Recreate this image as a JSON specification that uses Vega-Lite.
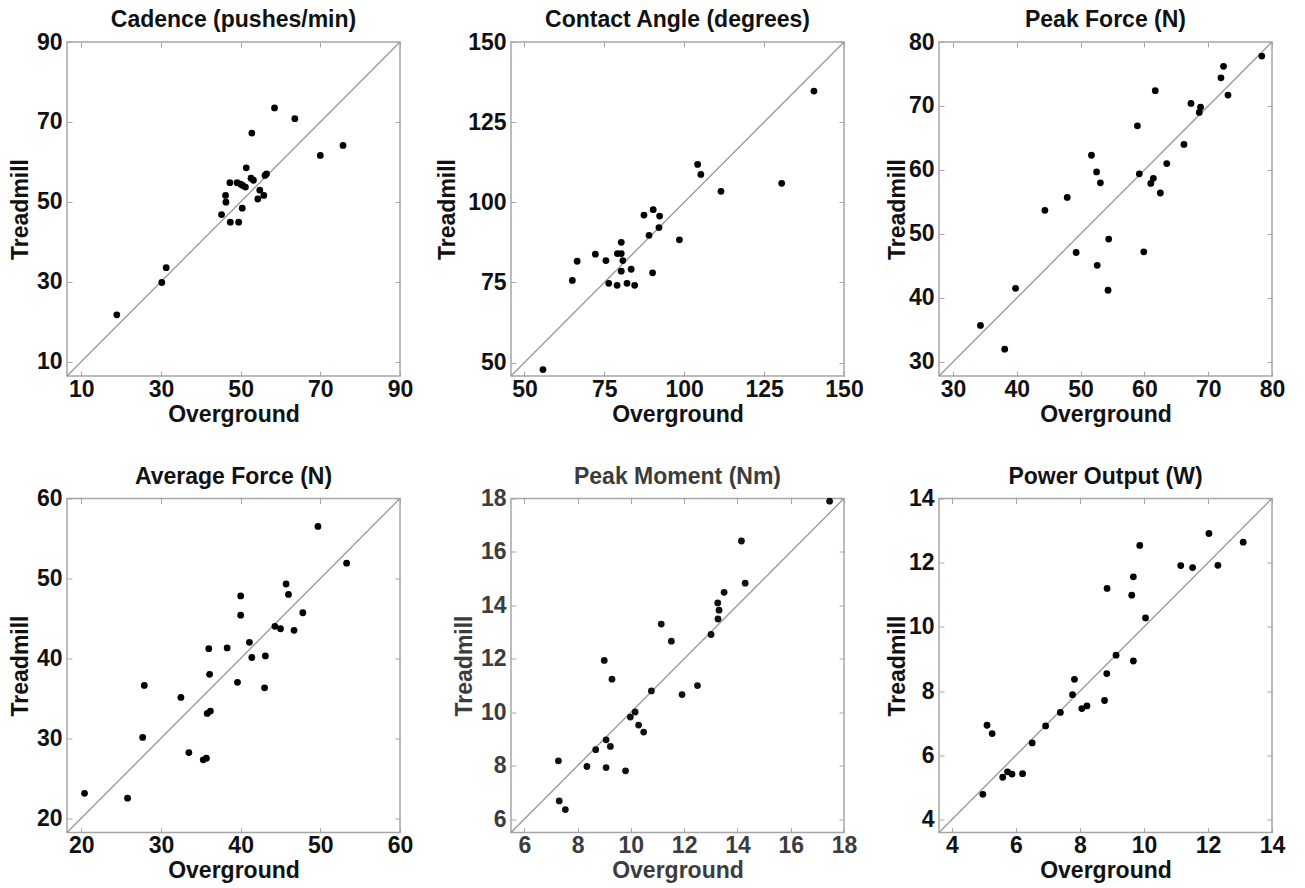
{
  "$schema": "https://vega.github.io/schema/vega-lite/v6.json",
  "background": "white",
  "padding": {"left": 8, "top": 8, "right": 5, "bottom": 2},
  "columns": 3,
  "align": "each",
  "spacing": {"row": 37.5, "column": 21},
  "config": {
    "font": "Liberation Sans",
    "view": {"stroke": "#a6a6a6", "strokeWidth": 1.5},
    "title": {"fontSize": 23, "fontWeight": "bold", "font": "Liberation Sans", "color": "#111111", "frame": "group", "anchor": "middle", "offset": -1},
    "axis": {"grid": false, "domain": false, "tickSize": -5, "tickColor": "#a6a6a6", "tickWidth": 1, "minExtent": 0, "labelFont": "Liberation Sans", "labelFontSize": 23, "labelFontWeight": "bold", "labelColor": "#111111", "labelPadding": 10, "labelFlush": false, "labelOverlap": false, "titleFont": "Liberation Sans", "titleFontSize": 23, "titleFontWeight": "bold", "titleColor": "#111111", "titlePadding": 4},
    "axisX": {"titlePadding": 2, "labelPadding": 7}
  },
  "datasets": {
    "d": [
      {"p": "cad", "o": 58.5, "t": 73.5}, {"p": "cad", "o": 63.6, "t": 70.8}, {"p": "cad", "o": 52.8, "t": 67.2}, {"p": "cad", "o": 70.0, "t": 61.6}, {"p": "cad", "o": 75.7, "t": 64.1}, {"p": "cad", "o": 51.4, "t": 58.5}, {"p": "cad", "o": 52.6, "t": 55.9}, {"p": "cad", "o": 53.2, "t": 55.4}, {"p": "cad", "o": 56.1, "t": 56.6}, {"p": "cad", "o": 56.5, "t": 57.0}, {"p": "cad", "o": 47.3, "t": 54.8}, {"p": "cad", "o": 49.1, "t": 54.8}, {"p": "cad", "o": 50.0, "t": 54.4}, {"p": "cad", "o": 50.5, "t": 54.1}, {"p": "cad", "o": 51.2, "t": 53.7}, {"p": "cad", "o": 54.8, "t": 52.9}, {"p": "cad", "o": 55.8, "t": 51.6}, {"p": "cad", "o": 54.3, "t": 50.7}, {"p": "cad", "o": 46.2, "t": 51.6}, {"p": "cad", "o": 46.3, "t": 49.9}, {"p": "cad", "o": 50.4, "t": 48.4}, {"p": "cad", "o": 45.2, "t": 46.8}, {"p": "cad", "o": 47.4, "t": 44.9}, {"p": "cad", "o": 49.5, "t": 44.9}, {"p": "cad", "o": 31.3, "t": 33.5}, {"p": "cad", "o": 30.2, "t": 29.8}, {"p": "cad", "o": 18.9, "t": 21.7},
      {"p": "ang", "o": 140.6, "t": 134.7}, {"p": "ang", "o": 104.2, "t": 111.8}, {"p": "ang", "o": 105.2, "t": 108.7}, {"p": "ang", "o": 111.5, "t": 103.4}, {"p": "ang", "o": 130.5, "t": 105.9}, {"p": "ang", "o": 87.4, "t": 96.0}, {"p": "ang", "o": 90.3, "t": 97.7}, {"p": "ang", "o": 92.3, "t": 95.7}, {"p": "ang", "o": 92.1, "t": 92.1}, {"p": "ang", "o": 89.0, "t": 89.7}, {"p": "ang", "o": 98.5, "t": 88.3}, {"p": "ang", "o": 80.3, "t": 87.5}, {"p": "ang", "o": 72.2, "t": 83.8}, {"p": "ang", "o": 79.1, "t": 84.0}, {"p": "ang", "o": 80.3, "t": 84.0}, {"p": "ang", "o": 66.5, "t": 81.6}, {"p": "ang", "o": 75.5, "t": 81.8}, {"p": "ang", "o": 80.8, "t": 81.8}, {"p": "ang", "o": 80.3, "t": 78.5}, {"p": "ang", "o": 83.4, "t": 79.1}, {"p": "ang", "o": 90.1, "t": 78.0}, {"p": "ang", "o": 65.0, "t": 75.6}, {"p": "ang", "o": 76.4, "t": 74.7}, {"p": "ang", "o": 79.0, "t": 74.1}, {"p": "ang", "o": 82.1, "t": 74.7}, {"p": "ang", "o": 84.5, "t": 74.1}, {"p": "ang", "o": 55.8, "t": 47.8},
      {"p": "pf", "o": 78.4, "t": 77.8}, {"p": "pf", "o": 72.4, "t": 76.2}, {"p": "pf", "o": 72.0, "t": 74.4}, {"p": "pf", "o": 73.1, "t": 71.7}, {"p": "pf", "o": 61.7, "t": 72.4}, {"p": "pf", "o": 67.3, "t": 70.4}, {"p": "pf", "o": 68.8, "t": 69.8}, {"p": "pf", "o": 68.6, "t": 69.0}, {"p": "pf", "o": 58.9, "t": 66.9}, {"p": "pf", "o": 66.2, "t": 64.0}, {"p": "pf", "o": 51.7, "t": 62.3}, {"p": "pf", "o": 52.5, "t": 59.7}, {"p": "pf", "o": 53.1, "t": 58.0}, {"p": "pf", "o": 59.2, "t": 59.4}, {"p": "pf", "o": 63.5, "t": 61.0}, {"p": "pf", "o": 61.4, "t": 58.7}, {"p": "pf", "o": 61.0, "t": 57.9}, {"p": "pf", "o": 62.5, "t": 56.4}, {"p": "pf", "o": 47.9, "t": 55.7}, {"p": "pf", "o": 44.4, "t": 53.7}, {"p": "pf", "o": 54.4, "t": 49.2}, {"p": "pf", "o": 49.3, "t": 47.1}, {"p": "pf", "o": 59.9, "t": 47.2}, {"p": "pf", "o": 52.6, "t": 45.1}, {"p": "pf", "o": 54.3, "t": 41.2}, {"p": "pf", "o": 39.8, "t": 41.5}, {"p": "pf", "o": 34.3, "t": 35.7}, {"p": "pf", "o": 38.1, "t": 32.0},
      {"p": "af", "o": 49.7, "t": 56.5}, {"p": "af", "o": 53.3, "t": 51.9}, {"p": "af", "o": 45.7, "t": 49.3}, {"p": "af", "o": 46.0, "t": 48.0}, {"p": "af", "o": 40.0, "t": 47.8}, {"p": "af", "o": 40.0, "t": 45.4}, {"p": "af", "o": 47.8, "t": 45.7}, {"p": "af", "o": 44.3, "t": 44.0}, {"p": "af", "o": 45.0, "t": 43.7}, {"p": "af", "o": 46.7, "t": 43.5}, {"p": "af", "o": 41.1, "t": 42.0}, {"p": "af", "o": 36.0, "t": 41.2}, {"p": "af", "o": 38.3, "t": 41.3}, {"p": "af", "o": 41.4, "t": 40.1}, {"p": "af", "o": 43.1, "t": 40.3}, {"p": "af", "o": 36.1, "t": 38.0}, {"p": "af", "o": 39.6, "t": 37.0}, {"p": "af", "o": 43.0, "t": 36.3}, {"p": "af", "o": 27.9, "t": 36.6}, {"p": "af", "o": 32.5, "t": 35.1}, {"p": "af", "o": 35.8, "t": 33.1}, {"p": "af", "o": 36.2, "t": 33.4}, {"p": "af", "o": 27.7, "t": 30.1}, {"p": "af", "o": 33.5, "t": 28.2}, {"p": "af", "o": 35.3, "t": 27.3}, {"p": "af", "o": 35.7, "t": 27.5}, {"p": "af", "o": 20.4, "t": 23.1}, {"p": "af", "o": 25.8, "t": 22.5},
      {"p": "pm", "o": 17.46, "t": 17.9}, {"p": "pm", "o": 14.15, "t": 16.41}, {"p": "pm", "o": 14.29, "t": 14.83}, {"p": "pm", "o": 13.5, "t": 14.49}, {"p": "pm", "o": 13.26, "t": 14.09}, {"p": "pm", "o": 13.31, "t": 13.82}, {"p": "pm", "o": 13.27, "t": 13.49}, {"p": "pm", "o": 13.01, "t": 12.91}, {"p": "pm", "o": 11.14, "t": 13.3}, {"p": "pm", "o": 11.52, "t": 12.66}, {"p": "pm", "o": 9.0, "t": 11.94}, {"p": "pm", "o": 9.29, "t": 11.24}, {"p": "pm", "o": 10.77, "t": 10.8}, {"p": "pm", "o": 12.5, "t": 11.0}, {"p": "pm", "o": 11.92, "t": 10.66}, {"p": "pm", "o": 10.16, "t": 10.01}, {"p": "pm", "o": 9.98, "t": 9.82}, {"p": "pm", "o": 10.29, "t": 9.52}, {"p": "pm", "o": 10.48, "t": 9.26}, {"p": "pm", "o": 9.07, "t": 8.97}, {"p": "pm", "o": 9.23, "t": 8.72}, {"p": "pm", "o": 8.68, "t": 8.6}, {"p": "pm", "o": 7.28, "t": 8.18}, {"p": "pm", "o": 8.35, "t": 7.97}, {"p": "pm", "o": 9.07, "t": 7.93}, {"p": "pm", "o": 9.8, "t": 7.81}, {"p": "pm", "o": 7.31, "t": 6.68}, {"p": "pm", "o": 7.54, "t": 6.36},
      {"p": "po", "o": 12.03, "t": 12.91}, {"p": "po", "o": 13.1, "t": 12.64}, {"p": "po", "o": 9.87, "t": 12.54}, {"p": "po", "o": 11.15, "t": 11.91}, {"p": "po", "o": 11.52, "t": 11.85}, {"p": "po", "o": 12.31, "t": 11.92}, {"p": "po", "o": 9.67, "t": 11.56}, {"p": "po", "o": 8.85, "t": 11.2}, {"p": "po", "o": 9.62, "t": 10.99}, {"p": "po", "o": 10.05, "t": 10.28}, {"p": "po", "o": 9.13, "t": 9.12}, {"p": "po", "o": 9.67, "t": 8.94}, {"p": "po", "o": 8.84, "t": 8.55}, {"p": "po", "o": 7.83, "t": 8.37}, {"p": "po", "o": 7.77, "t": 7.89}, {"p": "po", "o": 8.77, "t": 7.71}, {"p": "po", "o": 8.06, "t": 7.46}, {"p": "po", "o": 8.22, "t": 7.54}, {"p": "po", "o": 7.39, "t": 7.34}, {"p": "po", "o": 6.93, "t": 6.92}, {"p": "po", "o": 6.51, "t": 6.39}, {"p": "po", "o": 5.1, "t": 6.94}, {"p": "po", "o": 5.26, "t": 6.68}, {"p": "po", "o": 5.59, "t": 5.32}, {"p": "po", "o": 5.74, "t": 5.49}, {"p": "po", "o": 5.88, "t": 5.42}, {"p": "po", "o": 6.21, "t": 5.43}, {"p": "po", "o": 4.97, "t": 4.79}
    ]
  },
  "concat": [
    {
      "title": "Cadence (pushes/min)", "width": 333, "height": 334,
      "layer": [
        {"data": {"values": [{}]}, "mark": {"type": "rule", "color": "#9c9c9c", "strokeWidth": 1.4},
         "encoding": {
           "x": {"datum": 6.4, "type": "quantitative", "scale": {"domain": [6.4, 90], "nice": false, "zero": false}, "axis": {"orient": "top", "labels": false, "title": null, "values": [10, 30, 50, 70, 90]}},
           "y": {"datum": 6.4, "type": "quantitative", "scale": {"domain": [6.4, 90], "nice": false, "zero": false}, "axis": {"orient": "right", "labels": false, "title": null, "values": [10, 30, 50, 70, 90]}},
           "x2": {"datum": 90}, "y2": {"datum": 90}}},
        {"data": {"name": "d"}, "transform": [{"filter": "datum.p == 'cad'"}],
         "mark": {"type": "circle", "size": 46, "color": "#000000", "opacity": 1},
         "encoding": {
           "x": {"field": "o", "type": "quantitative", "scale": {"domain": [6.4, 90], "nice": false, "zero": false}, "axis": {"title": "Overground", "values": [10, 30, 50, 70, 90]}},
           "y": {"field": "t", "type": "quantitative", "scale": {"domain": [6.4, 90], "nice": false, "zero": false}, "axis": {"title": "Treadmill", "values": [10, 30, 50, 70, 90]}}}}
      ],
      "resolve": {"axis": {"x": "independent", "y": "independent"}}
    },
    {
      "title": "Contact Angle (degrees)", "width": 333, "height": 334,
      "layer": [
        {"data": {"values": [{}]}, "mark": {"type": "rule", "color": "#9c9c9c", "strokeWidth": 1.4},
         "encoding": {
           "x": {"datum": 45.8, "type": "quantitative", "scale": {"domain": [45.8, 150], "nice": false, "zero": false}, "axis": {"orient": "top", "labels": false, "title": null, "values": [50, 75, 100, 125, 150]}},
           "y": {"datum": 45.8, "type": "quantitative", "scale": {"domain": [45.8, 150], "nice": false, "zero": false}, "axis": {"orient": "right", "labels": false, "title": null, "values": [50, 75, 100, 125, 150]}},
           "x2": {"datum": 150}, "y2": {"datum": 150}}},
        {"data": {"name": "d"}, "transform": [{"filter": "datum.p == 'ang'"}],
         "mark": {"type": "circle", "size": 46, "color": "#000000", "opacity": 1},
         "encoding": {
           "x": {"field": "o", "type": "quantitative", "scale": {"domain": [45.8, 150], "nice": false, "zero": false}, "axis": {"title": "Overground", "values": [50, 75, 100, 125, 150]}},
           "y": {"field": "t", "type": "quantitative", "scale": {"domain": [45.8, 150], "nice": false, "zero": false}, "axis": {"title": "Treadmill", "titlePadding": 8, "values": [50, 75, 100, 125, 150]}}}}
      ],
      "resolve": {"axis": {"x": "independent", "y": "independent"}}
    },
    {
      "title": "Peak Force (N)", "width": 333, "height": 334,
      "layer": [
        {"data": {"values": [{}]}, "mark": {"type": "rule", "color": "#9c9c9c", "strokeWidth": 1.4},
         "encoding": {
           "x": {"datum": 27.8, "type": "quantitative", "scale": {"domain": [27.8, 80], "nice": false, "zero": false}, "axis": {"orient": "top", "labels": false, "title": null, "values": [30, 40, 50, 60, 70, 80]}},
           "y": {"datum": 27.8, "type": "quantitative", "scale": {"domain": [27.8, 80], "nice": false, "zero": false}, "axis": {"orient": "right", "labels": false, "title": null, "values": [30, 40, 50, 60, 70, 80]}},
           "x2": {"datum": 80}, "y2": {"datum": 80}}},
        {"data": {"name": "d"}, "transform": [{"filter": "datum.p == 'pf'"}],
         "mark": {"type": "circle", "size": 46, "color": "#000000", "opacity": 1},
         "encoding": {
           "x": {"field": "o", "type": "quantitative", "scale": {"domain": [27.8, 80], "nice": false, "zero": false}, "axis": {"title": "Overground", "values": [30, 40, 50, 60, 70, 80]}},
           "y": {"field": "t", "type": "quantitative", "scale": {"domain": [27.8, 80], "nice": false, "zero": false}, "axis": {"title": "Treadmill", "titlePadding": -1, "values": [30, 40, 50, 60, 70, 80]}}}}
      ],
      "resolve": {"axis": {"x": "independent", "y": "independent"}}
    },
    {
      "title": "Average Force (N)", "width": 333, "height": 334,
      "layer": [
        {"data": {"values": [{}]}, "mark": {"type": "rule", "color": "#9c9c9c", "strokeWidth": 1.4},
         "encoding": {
           "x": {"datum": 18.2, "type": "quantitative", "scale": {"domain": [18.2, 60], "nice": false, "zero": false}, "axis": {"orient": "top", "labels": false, "title": null, "values": [20, 30, 40, 50, 60]}},
           "y": {"datum": 18.2, "type": "quantitative", "scale": {"domain": [18.2, 60], "nice": false, "zero": false}, "axis": {"orient": "right", "labels": false, "title": null, "values": [20, 30, 40, 50, 60]}},
           "x2": {"datum": 60}, "y2": {"datum": 60}}},
        {"data": {"name": "d"}, "transform": [{"filter": "datum.p == 'af'"}],
         "mark": {"type": "circle", "size": 46, "color": "#000000", "opacity": 1},
         "encoding": {
           "x": {"field": "o", "type": "quantitative", "scale": {"domain": [18.2, 60], "nice": false, "zero": false}, "axis": {"title": "Overground", "values": [20, 30, 40, 50, 60]}},
           "y": {"field": "t", "type": "quantitative", "scale": {"domain": [18.2, 60], "nice": false, "zero": false}, "axis": {"title": "Treadmill", "values": [20, 30, 40, 50, 60]}}}}
      ],
      "resolve": {"axis": {"x": "independent", "y": "independent"}}
    },
    {
      "title": {"text": "Peak Moment (Nm)", "color": "#3c3c3c"}, "width": 333, "height": 334,
      "layer": [
        {"data": {"values": [{}]}, "mark": {"type": "rule", "color": "#9c9c9c", "strokeWidth": 1.4},
         "encoding": {
           "x": {"datum": 5.5, "type": "quantitative", "scale": {"domain": [5.5, 18], "nice": false, "zero": false}, "axis": {"orient": "top", "labels": false, "title": null, "values": [6, 8, 10, 12, 14, 16, 18]}},
           "y": {"datum": 5.5, "type": "quantitative", "scale": {"domain": [5.5, 18], "nice": false, "zero": false}, "axis": {"orient": "right", "labels": false, "title": null, "values": [6, 8, 10, 12, 14, 16, 18]}},
           "x2": {"datum": 18}, "y2": {"datum": 18}}},
        {"data": {"name": "d"}, "transform": [{"filter": "datum.p == 'pm'"}],
         "mark": {"type": "circle", "size": 46, "color": "#111111", "opacity": 1},
         "encoding": {
           "x": {"field": "o", "type": "quantitative", "scale": {"domain": [5.5, 18], "nice": false, "zero": false}, "axis": {"title": "Overground", "values": [6, 8, 10, 12, 14, 16, 18], "labelColor": "#3c3c3c", "titleColor": "#3c3c3c"}},
           "y": {"field": "t", "type": "quantitative", "scale": {"domain": [5.5, 18], "nice": false, "zero": false}, "axis": {"title": "Treadmill", "values": [6, 8, 10, 12, 14, 16, 18], "labelColor": "#3c3c3c", "titleColor": "#3c3c3c"}}}}
      ],
      "resolve": {"axis": {"x": "independent", "y": "independent"}}
    },
    {
      "title": "Power Output (W)", "width": 333, "height": 334,
      "layer": [
        {"data": {"values": [{}]}, "mark": {"type": "rule", "color": "#9c9c9c", "strokeWidth": 1.4},
         "encoding": {
           "x": {"datum": 3.6, "type": "quantitative", "scale": {"domain": [3.6, 14], "nice": false, "zero": false}, "axis": {"orient": "top", "labels": false, "title": null, "values": [4, 6, 8, 10, 12, 14]}},
           "y": {"datum": 3.6, "type": "quantitative", "scale": {"domain": [3.6, 14], "nice": false, "zero": false}, "axis": {"orient": "right", "labels": false, "title": null, "values": [4, 6, 8, 10, 12, 14]}},
           "x2": {"datum": 14}, "y2": {"datum": 14}}},
        {"data": {"name": "d"}, "transform": [{"filter": "datum.p == 'po'"}],
         "mark": {"type": "circle", "size": 46, "color": "#000000", "opacity": 1},
         "encoding": {
           "x": {"field": "o", "type": "quantitative", "scale": {"domain": [3.6, 14], "nice": false, "zero": false}, "axis": {"title": "Overground", "values": [4, 6, 8, 10, 12, 14]}},
           "y": {"field": "t", "type": "quantitative", "scale": {"domain": [3.6, 14], "nice": false, "zero": false}, "axis": {"title": "Treadmill", "titlePadding": -1, "values": [4, 6, 8, 10, 12, 14]}}}}
      ],
      "resolve": {"axis": {"x": "independent", "y": "independent"}}
    }
  ]
}
